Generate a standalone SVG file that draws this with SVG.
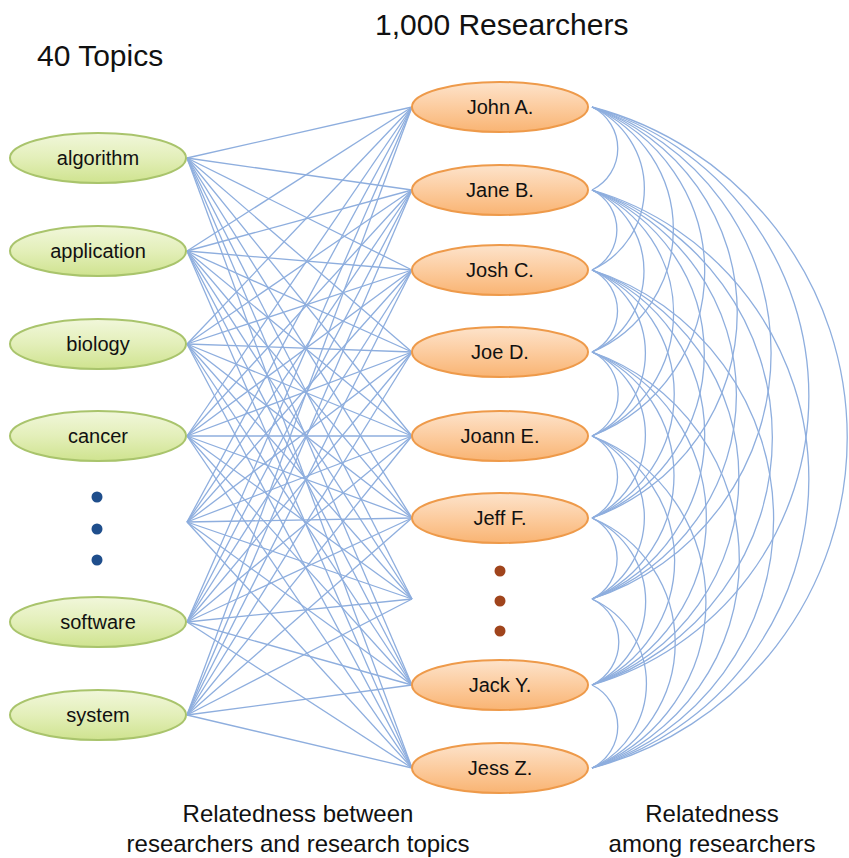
<svg xmlns="http://www.w3.org/2000/svg" width="849" height="858" viewBox="0 0 849 858">
<defs>
<linearGradient id="gG" x1="0" y1="0" x2="0" y2="1"><stop offset="0" stop-color="#f1f7db"/><stop offset="0.5" stop-color="#e3efb9"/><stop offset="1" stop-color="#cfe38f"/></linearGradient>
<linearGradient id="gO" x1="0" y1="0" x2="0" y2="1"><stop offset="0" stop-color="#fde3cb"/><stop offset="0.5" stop-color="#fccc9f"/><stop offset="1" stop-color="#f9b473"/></linearGradient>
</defs>
<style>
.t{fill:url(#gG);stroke:#a9c46c;stroke-width:2}
.r{fill:url(#gO);stroke:#ee9a4a;stroke-width:2}
.lb{font-family:"Liberation Sans",Arial,sans-serif;font-size:20px;fill:#111;text-anchor:middle}
.hd{font-family:"Liberation Sans",Arial,sans-serif;font-size:30px;fill:#111}
.ft{font-family:"Liberation Sans",Arial,sans-serif;font-size:24px;fill:#111;text-anchor:middle}
#connectors line,#connectors path{stroke:#8eaede;stroke-width:1.3;fill:none}
</style>
<rect width="849" height="858" fill="#fff"/>
<g id="connectors">
<line x1="187" y1="158" x2="412" y2="107"/><line x1="187" y1="158" x2="412" y2="190"/><line x1="187" y1="158" x2="412" y2="270"/><line x1="187" y1="158" x2="412" y2="352"/><line x1="187" y1="158" x2="412" y2="436"/><line x1="187" y1="158" x2="412" y2="518"/><line x1="187" y1="158" x2="412" y2="599"/><line x1="187" y1="158" x2="412" y2="685"/><line x1="187" y1="158" x2="412" y2="768"/>
<line x1="187" y1="251" x2="412" y2="107"/><line x1="187" y1="251" x2="412" y2="190"/><line x1="187" y1="251" x2="412" y2="270"/><line x1="187" y1="251" x2="412" y2="352"/><line x1="187" y1="251" x2="412" y2="436"/><line x1="187" y1="251" x2="412" y2="518"/><line x1="187" y1="251" x2="412" y2="599"/><line x1="187" y1="251" x2="412" y2="685"/><line x1="187" y1="251" x2="412" y2="768"/>
<line x1="187" y1="344" x2="412" y2="107"/><line x1="187" y1="344" x2="412" y2="190"/><line x1="187" y1="344" x2="412" y2="270"/><line x1="187" y1="344" x2="412" y2="352"/><line x1="187" y1="344" x2="412" y2="436"/><line x1="187" y1="344" x2="412" y2="518"/><line x1="187" y1="344" x2="412" y2="599"/><line x1="187" y1="344" x2="412" y2="685"/><line x1="187" y1="344" x2="412" y2="768"/>
<line x1="187" y1="436" x2="412" y2="107"/><line x1="187" y1="436" x2="412" y2="190"/><line x1="187" y1="436" x2="412" y2="270"/><line x1="187" y1="436" x2="412" y2="352"/><line x1="187" y1="436" x2="412" y2="436"/><line x1="187" y1="436" x2="412" y2="518"/><line x1="187" y1="436" x2="412" y2="599"/><line x1="187" y1="436" x2="412" y2="685"/><line x1="187" y1="436" x2="412" y2="768"/>
<line x1="187" y1="522" x2="412" y2="107"/><line x1="187" y1="522" x2="412" y2="190"/><line x1="187" y1="522" x2="412" y2="270"/><line x1="187" y1="522" x2="412" y2="352"/><line x1="187" y1="522" x2="412" y2="436"/><line x1="187" y1="522" x2="412" y2="518"/><line x1="187" y1="522" x2="412" y2="599"/><line x1="187" y1="522" x2="412" y2="685"/><line x1="187" y1="522" x2="412" y2="768"/>
<line x1="187" y1="622" x2="412" y2="107"/><line x1="187" y1="622" x2="412" y2="190"/><line x1="187" y1="622" x2="412" y2="270"/><line x1="187" y1="622" x2="412" y2="352"/><line x1="187" y1="622" x2="412" y2="436"/><line x1="187" y1="622" x2="412" y2="518"/><line x1="187" y1="622" x2="412" y2="599"/><line x1="187" y1="622" x2="412" y2="685"/><line x1="187" y1="622" x2="412" y2="768"/>
<line x1="187" y1="715" x2="412" y2="107"/><line x1="187" y1="715" x2="412" y2="190"/><line x1="187" y1="715" x2="412" y2="270"/><line x1="187" y1="715" x2="412" y2="352"/><line x1="187" y1="715" x2="412" y2="436"/><line x1="187" y1="715" x2="412" y2="518"/><line x1="187" y1="715" x2="412" y2="599"/><line x1="187" y1="715" x2="412" y2="685"/><line x1="187" y1="715" x2="412" y2="768"/>
<path d="M592 107A46.3 46.3 0 0 1 592 190"/><path d="M592 107A89.6 89.6 0 0 1 592 270"/><path d="M592 107A132.9 132.9 0 0 1 592 352"/><path d="M592 107A176.4 176.4 0 0 1 592 436"/><path d="M592 107A218 218 0 0 1 592 518"/><path d="M592 107A258.5 258.5 0 0 1 592 599"/><path d="M592 107A301 301 0 0 1 592 685"/><path d="M592 107A341.6 341.6 0 0 1 592 768"/>
<path d="M592 190A44.6 44.6 0 0 1 592 270"/><path d="M592 190A89.1 89.1 0 0 1 592 352"/><path d="M592 190A133.5 133.5 0 0 1 592 436"/><path d="M592 190A175.9 175.9 0 0 1 592 518"/><path d="M592 190A217 217 0 0 1 592 599"/><path d="M592 190A260 260 0 0 1 592 685"/><path d="M592 190A301 301 0 0 1 592 768"/>
<path d="M592 270A45.7 45.7 0 0 1 592 352"/><path d="M592 270A91.2 91.2 0 0 1 592 436"/><path d="M592 270A134.6 134.6 0 0 1 592 518"/><path d="M592 270A176.4 176.4 0 0 1 592 599"/><path d="M592 270A220 220 0 0 1 592 685"/><path d="M592 270A261.5 261.5 0 0 1 592 768"/>
<path d="M592 352A46.8 46.8 0 0 1 592 436"/><path d="M592 352A91.2 91.2 0 0 1 592 518"/><path d="M592 352A134 134 0 0 1 592 599"/><path d="M592 352A178.4 178.4 0 0 1 592 685"/><path d="M592 352A220.5 220.5 0 0 1 592 768"/>
<path d="M592 436A45.7 45.7 0 0 1 592 518"/><path d="M592 436A89.6 89.6 0 0 1 592 599"/><path d="M592 436A135.1 135.1 0 0 1 592 685"/><path d="M592 436A177.9 177.9 0 0 1 592 768"/>
<path d="M592 518A45.2 45.2 0 0 1 592 599"/><path d="M592 518A91.8 91.8 0 0 1 592 685"/><path d="M592 518A135.5 135.5 0 0 1 592 768"/>
<path d="M592 599A47.9 47.9 0 0 1 592 685"/><path d="M592 599A92.8 92.8 0 0 1 592 768"/>
<path d="M592 685A46.3 46.3 0 0 1 592 768"/>
</g>
<text class="hd" x="375" y="35">1,000 Researchers</text>
<text class="hd" x="37" y="66">40 Topics</text>
<g id="topic-algorithm"><ellipse class="t" cx="98" cy="158" rx="88" ry="25"/><text class="lb" x="98" y="165">algorithm</text></g>
<g id="topic-application"><ellipse class="t" cx="98" cy="251" rx="88" ry="25"/><text class="lb" x="98" y="258">application</text></g>
<g id="topic-biology"><ellipse class="t" cx="98" cy="344" rx="88" ry="25"/><text class="lb" x="98" y="351">biology</text></g>
<g id="topic-cancer"><ellipse class="t" cx="98" cy="436" rx="88" ry="25"/><text class="lb" x="98" y="443">cancer</text></g>
<g id="topic-dots" fill="#1f4e8c"><circle cx="97" cy="497" r="5.5"/><circle cx="97" cy="529" r="5.5"/><circle cx="97" cy="560" r="5.5"/></g>
<g id="topic-software"><ellipse class="t" cx="98" cy="622" rx="88" ry="25"/><text class="lb" x="98" y="629">software</text></g>
<g id="topic-system"><ellipse class="t" cx="98" cy="715" rx="88" ry="25"/><text class="lb" x="98" y="722">system</text></g>
<g id="res-john"><ellipse class="r" cx="500" cy="107" rx="88" ry="25"/><text class="lb" x="500" y="114">John A.</text></g>
<g id="res-jane"><ellipse class="r" cx="500" cy="190" rx="88" ry="25"/><text class="lb" x="500" y="197">Jane B.</text></g>
<g id="res-josh"><ellipse class="r" cx="500" cy="270" rx="88" ry="25"/><text class="lb" x="500" y="277">Josh C.</text></g>
<g id="res-joe"><ellipse class="r" cx="500" cy="352" rx="88" ry="25"/><text class="lb" x="500" y="359">Joe D.</text></g>
<g id="res-joann"><ellipse class="r" cx="500" cy="436" rx="88" ry="25"/><text class="lb" x="500" y="443">Joann E.</text></g>
<g id="res-jeff"><ellipse class="r" cx="500" cy="518" rx="88" ry="25"/><text class="lb" x="500" y="525">Jeff F.</text></g>
<g id="res-dots" fill="#a0441c"><circle cx="500" cy="571" r="5.5"/><circle cx="500" cy="601" r="5.5"/><circle cx="500" cy="631" r="5.5"/></g>
<g id="res-jack"><ellipse class="r" cx="500" cy="685" rx="88" ry="25"/><text class="lb" x="500" y="692">Jack Y.</text></g>
<g id="res-jess"><ellipse class="r" cx="500" cy="768" rx="88" ry="25"/><text class="lb" x="500" y="775">Jess Z.</text></g>
<text class="ft" x="298" y="822">Relatedness between</text>
<text class="ft" x="298" y="852">researchers and research topics</text>
<text class="ft" x="712" y="822">Relatedness</text>
<text class="ft" x="712" y="852">among researchers</text>
</svg>
